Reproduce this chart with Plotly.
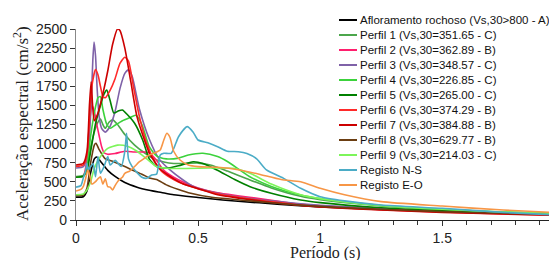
import plotly.graph_objects as go

# ---------------- data (period in s, spectral acceleration in cm/s2) ----------------
names = ["Afloramento rochoso (Vs,30>800 - A)",
         "Perfil 1 (Vs,30=351.65 - C)",
         "Perfil 2 (Vs,30=362.89 - B)",
         "Perfil 3 (Vs,30=348.57 - C)",
         "Perfil 4 (Vs,30=226.85 - C)",
         "Perfil 5 (Vs,30=265.00 - C)",
         "Perfil 6 (Vs,30=374.29 - B)",
         "Perfil 7 (Vs,30=384.88 - B)",
         "Perfil 8 (Vs,30=629.77 - B)",
         "Perfil 9 (Vs,30=214.03 - C)",
         "Registo N-S",
         "Registo E-O"]

afl_T = [0, 0.03, 0.045, 0.06, 0.075, 0.085, 0.1, 0.13, 0.16, 0.2, 0.25, 0.3, 0.35, 0.4, 0.5, 0.6, 0.75, 0.9, 1.0, 1.25, 1.5, 1.75, 1.97]
afl_A = [300, 305, 380, 620, 800, 825, 770, 650, 570, 490, 430, 390, 360, 330, 295, 262, 225, 190, 172, 138, 112, 93, 80]

p1_T = [0, 0.03, 0.045, 0.06, 0.075, 0.09, 0.1, 0.11, 0.12, 0.135, 0.15, 0.17, 0.2, 0.24, 0.28, 0.32, 0.36, 0.4, 0.45, 0.5, 0.55, 0.62, 0.7, 0.8, 0.92, 1.0, 1.25, 1.5, 1.75, 1.97]
p1_A = [570, 585, 680, 950, 1150, 1280, 1320, 1250, 1200, 1280, 1310, 1250, 1120, 980, 880, 800, 760, 740, 740, 745, 720, 640, 540, 420, 310, 265, 185, 135, 102, 84]

p2_T = [0, 0.03, 0.045, 0.055, 0.065, 0.075, 0.085, 0.095, 0.105, 0.115, 0.13, 0.16, 0.2, 0.24, 0.28, 0.3, 0.33, 0.36, 0.4, 0.45, 0.5, 0.58, 0.67, 0.75, 0.85, 0.92, 1.0, 1.25, 1.5, 1.75, 1.97]
p2_A = [560, 575, 800, 1250, 1500, 1420, 1250, 1100, 960, 880, 860, 870, 900, 890, 890, 880, 780, 650, 560, 480, 420, 355, 315, 280, 235, 205, 185, 145, 115, 92, 78]

p3_T = [0, 0.03, 0.045, 0.055, 0.063, 0.069, 0.074, 0.08, 0.087, 0.095, 0.105, 0.12, 0.14, 0.16, 0.18, 0.2, 0.215, 0.23, 0.26, 0.3, 0.34, 0.385, 0.44, 0.48, 0.58, 0.67, 0.8, 0.92, 1.0, 1.25, 1.5, 1.75, 1.97]
p3_A = [680, 700, 820, 1100, 1600, 2100, 2330, 2150, 1700, 1350, 1200, 1150, 1230, 1420, 1720, 1920, 1965, 1880, 1450, 1060, 800, 655, 520, 440, 350, 300, 250, 212, 192, 148, 117, 92, 77]

p4_T = [0, 0.03, 0.045, 0.06, 0.075, 0.09, 0.1, 0.11, 0.125, 0.14, 0.16, 0.19, 0.22, 0.245, 0.27, 0.3, 0.33, 0.37, 0.42, 0.46, 0.52, 0.58, 0.62, 0.71, 0.8, 0.92, 1.0, 1.25, 1.5, 1.75, 1.97]
p4_A = [560, 575, 700, 1100, 1400, 1600, 1614, 1450, 1260, 1200, 1240, 1300, 1340, 1370, 1250, 960, 840, 800, 810, 850, 873, 830, 765, 570, 440, 327, 280, 190, 140, 102, 82]

p5_T = [0, 0.03, 0.045, 0.06, 0.08, 0.1, 0.115, 0.126, 0.14, 0.155, 0.175, 0.19, 0.21, 0.24, 0.273, 0.3, 0.33, 0.37, 0.42, 0.48, 0.52, 0.577, 0.65, 0.713, 0.8, 0.92, 1.0, 1.25, 1.5, 1.75, 1.97]
p5_A = [560, 575, 650, 900, 1260, 1500, 1650, 1700, 1560, 1400, 1430, 1440, 1380, 1266, 1047, 800, 700, 677, 710, 763, 740, 655, 530, 436, 350, 262, 228, 160, 120, 92, 74]

p6_T = [0, 0.03, 0.045, 0.055, 0.065, 0.08, 0.09, 0.1, 0.11, 0.12, 0.14, 0.16, 0.18, 0.2, 0.215, 0.235, 0.26, 0.29, 0.32, 0.35, 0.4, 0.44, 0.5, 0.6, 0.7, 0.8, 0.92, 1.0, 1.25, 1.5, 1.75, 1.97]
p6_A = [700, 720, 850, 1300, 1750, 1970, 1900, 1750, 1620, 1600, 1700, 1850, 2050, 2130, 2080, 1750, 1350, 1000, 780, 640, 530, 470, 410, 330, 280, 240, 195, 175, 135, 105, 80, 65]

p7_T = [0, 0.03, 0.045, 0.055, 0.062, 0.068, 0.075, 0.09, 0.11, 0.13, 0.15, 0.17, 0.18, 0.2, 0.225, 0.25, 0.28, 0.3, 0.34, 0.385, 0.44, 0.5, 0.58, 0.67, 0.8, 0.92, 1.0, 1.25, 1.5, 1.75, 1.97]
p7_A = [720, 740, 900, 1500, 1810, 1500, 1300, 1400, 1650, 1950, 2300, 2500, 2480, 2250, 1800, 1350, 1050, 880, 680, 570, 470, 410, 330, 285, 230, 190, 170, 130, 100, 78, 62]

p8_T = [0, 0.03, 0.045, 0.06, 0.075, 0.082, 0.095, 0.12, 0.15, 0.2, 0.24, 0.27, 0.3, 0.33, 0.37, 0.42, 0.47, 0.55, 0.67, 0.8, 0.92, 1.0, 1.25, 1.5, 1.75, 1.97]
p8_A = [320, 330, 420, 750, 980, 1004, 920, 800, 770, 700, 640, 600, 550, 530, 460, 400, 350, 300, 262, 225, 195, 178, 140, 110, 88, 75]

p9_T = [0, 0.03, 0.045, 0.06, 0.075, 0.1, 0.13, 0.17, 0.21, 0.25, 0.29, 0.33, 0.37, 0.45, 0.55, 0.65, 0.713, 0.8, 0.92, 1.0, 1.25, 1.5, 1.75, 1.97]
p9_A = [330, 340, 393, 500, 677, 829, 938, 980, 965, 900, 800, 700, 677, 675, 680, 675, 611, 470, 330, 280, 190, 140, 105, 85]

ns_T = [0, 0.02, 0.03, 0.04, 0.045, 0.05, 0.06, 0.07, 0.08, 0.09, 0.1, 0.115, 0.13, 0.14, 0.16, 0.185, 0.2, 0.207, 0.215, 0.23, 0.25, 0.27, 0.29, 0.31, 0.33, 0.345, 0.36, 0.39, 0.42, 0.455, 0.48, 0.5, 0.54, 0.58, 0.62, 0.665, 0.7, 0.74, 0.78, 0.85, 0.92, 1.0, 1.1, 1.25, 1.5, 1.75, 1.97]
ns_A = [430, 450, 550, 650, 742, 650, 700, 740, 567, 829, 611, 700, 829, 720, 780, 700, 900, 1135, 800, 698, 620, 560, 546, 590, 600, 850, 873, 873, 1090, 1222, 1150, 1047, 1010, 960, 900, 894, 870, 800, 655, 545, 415, 305, 250, 196, 153, 100, 65]

eo_T = [0, 0.02, 0.03, 0.04, 0.048, 0.055, 0.065, 0.08, 0.09, 0.1, 0.11, 0.12, 0.13, 0.14, 0.15, 0.16, 0.175, 0.19, 0.2, 0.22, 0.24, 0.26, 0.28, 0.3, 0.33, 0.345, 0.36, 0.372, 0.385, 0.4, 0.426, 0.46, 0.5, 0.58, 0.67, 0.75, 0.84, 0.92, 1.0, 1.1, 1.25, 1.5, 1.75, 1.97]
eo_A = [380, 400, 440, 550, 655, 600, 470, 502, 540, 567, 470, 540, 436, 430, 393, 450, 520, 560, 611, 640, 700, 763, 807, 851, 890, 916, 1050, 1135, 1080, 900, 785, 720, 698, 690, 655, 600, 530, 500, 415, 330, 240, 183, 130, 96]

periods = [afl_T, p1_T, p2_T, p3_T, p4_T, p5_T, p6_T, p7_T, p8_T, p9_T, ns_T, eo_T]
accels = [afl_A, p1_A, p2_A, p3_A, p4_A, p5_A, p6_A, p7_A, p8_A, p9_A, ns_A, eo_A]
colors = ["#000000", "#4CA64C", "#FF1F6E", "#7F62A8", "#3CD23C", "#008000",
          "#FF2A2A", "#CC0000", "#6B3E12", "#7DF55A", "#4BACC6", "#F79646"]

x_ticks = [0, 0.5, 1, 1.5]
x_ticklabels = ["0", "0.5", "1", "1.5"]
y_ticks = list(range(0, 2501, 250))
x_title = "Período (s)"
y_title = "Aceleração espectral (cm/s<sup>2</sup>)"

# ---------------- layout geometry (page pixels; the page body has an 8 px margin) ----------------
PAGE_W, PAGE_H, BODY = 557, 262, 8
PL, PR, PT, PB = 76, 557, 29, 220          # plot area in page pixels
W, H = PAGE_W - BODY, PAGE_H - BODY
plot_w, plot_h = PR - PL, PB - PT

def px_to_paper(xpx, ypx):
    return (xpx - PL) / plot_w, (PB - ypx) / plot_h

fig = go.Figure()
for n, t, a, c in zip(names, periods, accels, colors):
    fig.add_trace(go.Scatter(x=t, y=a, mode="lines", name=n, showlegend=False,
                             line=dict(color=c, width=1.6, shape="spline", smoothing=0.6)))

# compact legend (row pitch 15 px, short line samples) built from names/colors
leg_font = dict(family="Liberation Sans, Arial, sans-serif", size=11.5, color="#111111")
row0_px, pitch_px = 20, 15
line_x0_px, line_x1_px, text_x_px = 339, 357, 358
for i, (n, c) in enumerate(zip(names, colors)):
    ypx = row0_px + pitch_px * i
    lx0, yp = px_to_paper(line_x0_px, ypx)
    lx1, _ = px_to_paper(line_x1_px, ypx)
    tx, _ = px_to_paper(text_x_px, ypx)
    fig.add_shape(type="line", xref="paper", yref="paper", x0=lx0, x1=lx1, y0=yp, y1=yp,
                  line=dict(color=c, width=2))
    fig.add_annotation(text=n, xref="paper", yref="paper", x=tx, y=yp,
                       xanchor="left", yanchor="middle", showarrow=False, font=leg_font)

tick_font = dict(family="Liberation Sans, Arial, sans-serif", size=14, color="#222222")
title_font = dict(family="Liberation Serif, Times New Roman, serif", size=17, color="#222222")
xtitle_font = dict(family="Liberation Serif, Times New Roman, serif", size=16, color="#222222")

xt_x, xt_y = px_to_paper(325, 252.5)
fig.add_annotation(text=x_title, xref="paper", yref="paper", x=xt_x, y=xt_y, height=15,
                   xanchor="center", yanchor="middle", showarrow=False, font=xtitle_font)
yt_x, yt_y = px_to_paper(21, 124)
fig.add_annotation(text=y_title, xref="paper", yref="paper", x=yt_x, y=yt_y, textangle=-90,
                   xanchor="center", yanchor="middle", showarrow=False, font=title_font)

fig.update_layout(
    width=W, height=H,
    margin=dict(l=PL - BODY, r=PAGE_W - PR, t=PT - BODY, b=H - (PB - BODY), autoexpand=False),
    paper_bgcolor="white", plot_bgcolor="white",
    showlegend=False,
    xaxis=dict(range=[0, 1.97], tickvals=x_ticks, ticktext=x_ticklabels,
               ticks="outside", ticklen=5, tickcolor="#333333", showgrid=False, zeroline=False,
               showline=True, linecolor="#222222", linewidth=1.2, tickfont=tick_font,
               minor=dict(dtick=0.1, ticks="outside", ticklen=4, tickcolor="#333333", showgrid=False)),
    yaxis=dict(range=[0, 2500], tickvals=y_ticks, ticks="outside", ticklen=5,
               tickcolor="#333333", showgrid=False, zeroline=False,
               showline=True, linecolor="#888888", linewidth=1.2, tickfont=tick_font),
)

fig.write_html("out.html")
